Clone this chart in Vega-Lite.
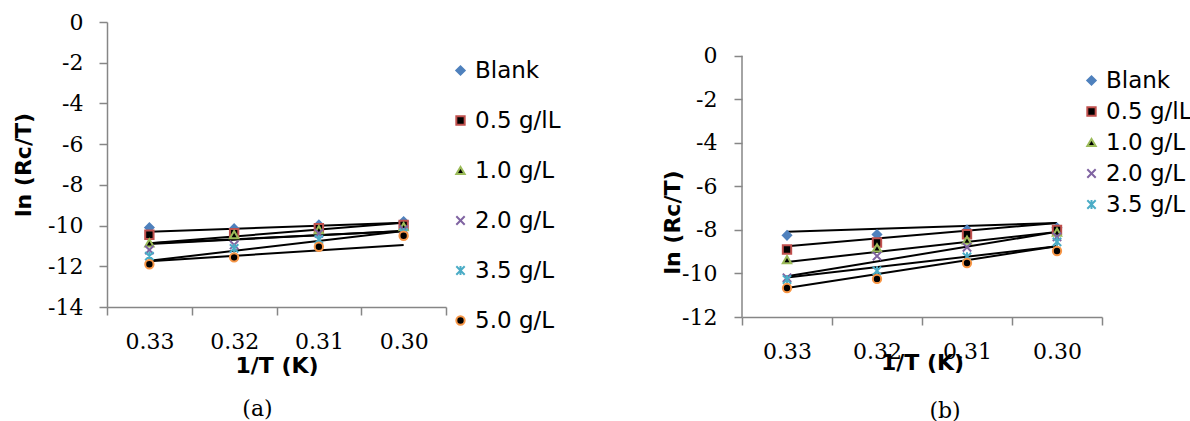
{
  "$schema": "https://vega.github.io/schema/vega-lite/v6.json",
  "background": "white",
  "padding": {"left": 12, "top": 11, "right": 0, "bottom": 0},
  "datasets": {
    "ptsA": [
      {"invT": "0.33", "series": "Blank", "v": -10.1},
      {"invT": "0.32", "series": "Blank", "v": -10.15},
      {"invT": "0.31", "series": "Blank", "v": -9.97},
      {"invT": "0.30", "series": "Blank", "v": -9.8},
      {"invT": "0.33", "series": "0.5 g/lL", "v": -10.45},
      {"invT": "0.32", "series": "0.5 g/lL", "v": -10.38},
      {"invT": "0.31", "series": "0.5 g/lL", "v": -10.13},
      {"invT": "0.30", "series": "0.5 g/lL", "v": -9.97},
      {"invT": "0.33", "series": "1.0 g/L", "v": -10.85},
      {"invT": "0.32", "series": "1.0 g/L", "v": -10.45},
      {"invT": "0.31", "series": "1.0 g/L", "v": -10.2},
      {"invT": "0.30", "series": "1.0 g/L", "v": -10.05},
      {"invT": "0.33", "series": "2.0 g/L", "v": -11.2},
      {"invT": "0.32", "series": "2.0 g/L", "v": -10.95},
      {"invT": "0.31", "series": "2.0 g/L", "v": -10.38},
      {"invT": "0.30", "series": "2.0 g/L", "v": -10.2},
      {"invT": "0.33", "series": "3.5 g/L", "v": -11.5},
      {"invT": "0.32", "series": "3.5 g/L", "v": -11.12},
      {"invT": "0.31", "series": "3.5 g/L", "v": -10.68},
      {"invT": "0.30", "series": "3.5 g/L", "v": -10.35},
      {"invT": "0.33", "series": "5.0 g/L", "v": -11.9},
      {"invT": "0.32", "series": "5.0 g/L", "v": -11.56},
      {"invT": "0.31", "series": "5.0 g/L", "v": -11.04},
      {"invT": "0.30", "series": "5.0 g/L", "v": -10.5}
    ],
    "trA": [
      {"invT": "0.33", "series": "Blank", "v": -10.3},
      {"invT": "0.30", "series": "Blank", "v": -9.86},
      {"invT": "0.33", "series": "0.5 g/lL", "v": -10.87},
      {"invT": "0.30", "series": "0.5 g/lL", "v": -9.86},
      {"invT": "0.33", "series": "1.0 g/L", "v": -10.87},
      {"invT": "0.30", "series": "1.0 g/L", "v": -10.27},
      {"invT": "0.33", "series": "2.0 g/L", "v": -10.9},
      {"invT": "0.30", "series": "2.0 g/L", "v": -10.27},
      {"invT": "0.33", "series": "3.5 g/L", "v": -11.73},
      {"invT": "0.30", "series": "3.5 g/L", "v": -10.27},
      {"invT": "0.33", "series": "5.0 g/L", "v": -11.75},
      {"invT": "0.30", "series": "5.0 g/L", "v": -10.96}
    ],
    "ptsB": [
      {"invT": "0.33", "series": "Blank", "v": -8.25},
      {"invT": "0.32", "series": "Blank", "v": -8.21},
      {"invT": "0.31", "series": "Blank", "v": -8.0},
      {"invT": "0.30", "series": "Blank", "v": -7.9},
      {"invT": "0.33", "series": "0.5 g/lL", "v": -8.9},
      {"invT": "0.32", "series": "0.5 g/lL", "v": -8.58},
      {"invT": "0.31", "series": "0.5 g/lL", "v": -8.2},
      {"invT": "0.30", "series": "0.5 g/lL", "v": -8.0},
      {"invT": "0.33", "series": "1.0 g/L", "v": -9.36},
      {"invT": "0.32", "series": "1.0 g/L", "v": -8.83},
      {"invT": "0.31", "series": "1.0 g/L", "v": -8.47},
      {"invT": "0.30", "series": "1.0 g/L", "v": -8.1},
      {"invT": "0.33", "series": "2.0 g/L", "v": -10.2},
      {"invT": "0.32", "series": "2.0 g/L", "v": -9.2},
      {"invT": "0.31", "series": "2.0 g/L", "v": -8.8},
      {"invT": "0.30", "series": "2.0 g/L", "v": -8.32},
      {"invT": "0.33", "series": "3.5 g/L", "v": -10.28},
      {"invT": "0.32", "series": "3.5 g/L", "v": -9.88},
      {"invT": "0.31", "series": "3.5 g/L", "v": -9.24},
      {"invT": "0.30", "series": "3.5 g/L", "v": -8.55},
      {"invT": "0.33", "series": "5.0 g/L", "v": -10.67},
      {"invT": "0.32", "series": "5.0 g/L", "v": -10.25},
      {"invT": "0.31", "series": "5.0 g/L", "v": -9.52},
      {"invT": "0.30", "series": "5.0 g/L", "v": -8.97}
    ],
    "trB": [
      {"invT": "0.33", "series": "Blank", "v": -8.08},
      {"invT": "0.30", "series": "Blank", "v": -7.68},
      {"invT": "0.33", "series": "0.5 g/lL", "v": -8.75},
      {"invT": "0.30", "series": "0.5 g/lL", "v": -7.68},
      {"invT": "0.33", "series": "1.0 g/L", "v": -9.47},
      {"invT": "0.30", "series": "1.0 g/L", "v": -8.09},
      {"invT": "0.33", "series": "2.0 g/L", "v": -10.13},
      {"invT": "0.30", "series": "2.0 g/L", "v": -8.09},
      {"invT": "0.33", "series": "3.5 g/L", "v": -10.19},
      {"invT": "0.30", "series": "3.5 g/L", "v": -8.75},
      {"invT": "0.33", "series": "5.0 g/L", "v": -10.67},
      {"invT": "0.30", "series": "5.0 g/L", "v": -8.75}
    ]
  },
  "spacing": 100,
  "hconcat": [
    {
      "width": 339,
      "height": 285,
      "title": {"text": "(a)", "orient": "bottom", "anchor": "middle", "frame": "group", "dx": -19, "offset": 23, "font": "DejaVu Serif", "fontSize": 22, "fontWeight": "normal", "color": "black"},
      "layer": [
        {
          "data": {"name": "trA"},
          "mark": {"type": "line", "color": "black", "strokeWidth": 2},
          "encoding": {
            "x": {"field": "invT", "type": "ordinal", "scale": {"type": "band", "domain": ["0.33", "0.32", "0.31", "0.30"], "paddingInner": 0, "paddingOuter": 0},
                  "axis": {"title": "1/T (K)", "labelAngle": 0, "tickBand": "extent", "labelPadding": 16, "titlePadding": 3}},
            "y": {"field": "v", "type": "quantitative", "scale": {"domain": [-14, 0], "nice": false},
                  "axis": {"title": "ln (Rc/T)", "values": [0, -2, -4, -6, -8, -10, -12, -14], "labelExpr": "'' + datum.value", "labelPadding": 16, "titlePadding": 12}},
            "detail": {"field": "series", "type": "nominal"}
          }
        },
        {
          "data": {"name": "ptsA"},
          "mark": {"type": "point", "filled": true, "size": 70, "strokeWidth": 2, "opacity": 1},
          "encoding": {
            "x": {"field": "invT", "type": "ordinal"},
            "y": {"field": "v", "type": "quantitative"},
            "shape": {"field": "series", "type": "nominal",
              "scale": {"domain": ["Blank", "0.5 g/lL", "1.0 g/L", "2.0 g/L", "3.5 g/L", "5.0 g/L"],
                        "range": ["diamond", "square", "triangle-up", "M-1,-1L1,1M1,-1L-1,1", "M-1,-1L1,1M1,-1L-1,1M0,-1.1L0,1.1", "circle"]},
              "legend": {"orient": "none", "legendX": 342, "legendY": 37, "title": null, "rowPadding": 26}},
            "fill": {"field": "series", "type": "nominal",
              "scale": {"domain": ["Blank", "0.5 g/lL", "1.0 g/L", "2.0 g/L", "3.5 g/L", "5.0 g/L"],
                        "range": ["#4F81BD", "#000000", "#000000", "#8064A2", "#4BACC6", "#000000"]},
              "legend": {"orient": "none", "legendX": 342, "legendY": 37, "title": null, "rowPadding": 26}},
            "stroke": {"field": "series", "type": "nominal",
              "scale": {"domain": ["Blank", "0.5 g/lL", "1.0 g/L", "2.0 g/L", "3.5 g/L", "5.0 g/L"],
                        "range": ["#4F81BD", "#C0504D", "#9BBB59", "#8064A2", "#4BACC6", "#F79646"]},
              "legend": {"orient": "none", "legendX": 342, "legendY": 37, "title": null, "rowPadding": 26}}
          }
        }
      ]
    },
    {
      "width": 360,
      "height": 295,
      "title": {"text": "(b)", "orient": "bottom", "anchor": "middle", "frame": "group", "dx": 23, "offset": 28, "font": "DejaVu Serif", "fontSize": 22, "fontWeight": "normal", "color": "black"},
      "layer": [
        {
          "data": {"name": "trB"},
          "mark": {"type": "line", "color": "black", "strokeWidth": 2},
          "encoding": {
            "x": {"field": "invT", "type": "ordinal", "scale": {"type": "band", "domain": ["0.33", "0.32", "0.31", "0.30"], "paddingInner": 0, "paddingOuter": 0},
                  "axis": {"title": "1/T (K)", "labelAngle": 0, "tickBand": "extent", "bandPosition": 0.5, "labelPadding": 16, "titlePadding": -10}},
            "y": {"field": "v", "type": "quantitative", "scale": {"domain": [-12, 1.55], "nice": false, "zero": false},
                  "axis": {"title": "ln (Rc/T)", "domain": false, "values": [0, -2, -4, -6, -8, -10, -12], "labelExpr": "'' + datum.value", "labelPadding": 17, "titlePadding": -3, "titleY": 200}},
            "detail": {"field": "series", "type": "nominal"}
          }
        },
        {
          "data": {"name": "ptsB"},
          "mark": {"type": "point", "filled": true, "size": 70, "strokeWidth": 2, "opacity": 1},
          "encoding": {
            "x": {"field": "invT", "type": "ordinal"},
            "y": {"field": "v", "type": "quantitative"},
            "shape": {"field": "series", "type": "nominal",
              "scale": {"domain": ["Blank", "0.5 g/lL", "1.0 g/L", "2.0 g/L", "3.5 g/L", "5.0 g/L"],
                        "range": ["diamond", "square", "triangle-up", "M-1,-1L1,1M1,-1L-1,1", "M-1,-1L1,1M1,-1L-1,1M0,-1.1L0,1.1", "circle"]},
              "legend": {"orient": "none", "legendX": 338, "legendY": 47, "title": null, "rowPadding": 7, "values": ["Blank", "0.5 g/lL", "1.0 g/L", "2.0 g/L", "3.5 g/L"]}},
            "fill": {"field": "series", "type": "nominal",
              "scale": {"domain": ["Blank", "0.5 g/lL", "1.0 g/L", "2.0 g/L", "3.5 g/L", "5.0 g/L"],
                        "range": ["#4F81BD", "#000000", "#000000", "#8064A2", "#4BACC6", "#000000"]},
              "legend": {"orient": "none", "legendX": 338, "legendY": 47, "title": null, "rowPadding": 7, "values": ["Blank", "0.5 g/lL", "1.0 g/L", "2.0 g/L", "3.5 g/L"]}},
            "stroke": {"field": "series", "type": "nominal",
              "scale": {"domain": ["Blank", "0.5 g/lL", "1.0 g/L", "2.0 g/L", "3.5 g/L", "5.0 g/L"],
                        "range": ["#4F81BD", "#C0504D", "#9BBB59", "#8064A2", "#4BACC6", "#F79646"]},
              "legend": {"orient": "none", "legendX": 338, "legendY": 47, "title": null, "rowPadding": 7, "values": ["Blank", "0.5 g/lL", "1.0 g/L", "2.0 g/L", "3.5 g/L"]}}
          }
        },
        {
          "data": {"values": [{}]},
          "mark": {"type": "rule", "color": "#868686", "strokeWidth": 1.5},
          "encoding": {
            "x": {"datum": "0.33", "type": "ordinal", "bandPosition": 0},
            "y": {"datum": 0, "type": "quantitative"},
            "y2": {"datum": -12}
          }
        }
      ]
    }
  ],
  "resolve": {"scale": {"shape": "independent", "fill": "independent", "stroke": "independent"}},
  "config": {
    "view": {"stroke": null},
    "axis": {"domainColor": "#868686", "tickColor": "#868686", "tickSize": 8, "domainWidth": 1.5, "tickWidth": 1.5, "grid": false,
             "labelColor": "black", "labelFont": "DejaVu Serif", "labelFontSize": 22,
             "titleColor": "black", "titleFont": "DejaVu Sans", "titleFontWeight": "bold", "titleFontSize": 22},
    "legend": {"padding": 0, "labelFont": "DejaVu Sans", "labelFontSize": 23, "labelColor": "black", "labelOffset": 3,
               "symbolSize": 70, "symbolStrokeWidth": 2}
  }
}
